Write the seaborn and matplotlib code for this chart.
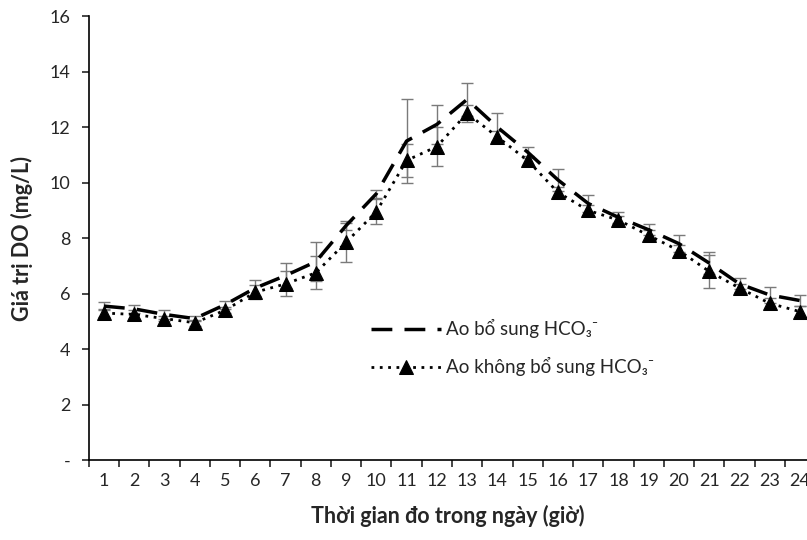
import matplotlib.pyplot as plt
import seaborn as sns
import pandas as pd
import numpy as np

# gio do trong ngay
gio = list(range(1, 25))

# Ao bo sung HCO3- (net dut)
do_bs = [5.55, 5.45, 5.25, 5.1, 5.6, 6.2, 6.65, 7.15, 8.45, 9.6, 11.5, 12.1,
         13.0, 12.0, 11.1, 10.1, 9.25, 8.75, 8.3, 7.8, 7.1, 6.35, 5.95, 5.75]
sd_bs = [0.15, 0.15, 0.15, 0.1, 0.15, 0.3, 0.45, 0.7, 0.15, 0.15, 1.5, 0.7,
         0.6, 0.5, 0.2, 0.4, 0.3, 0.2, 0.2, 0.3, 0.4, 0.2, 0.3, 0.2]

# Ao khong bo sung HCO3- (cham + tam giac)
do_kbs = [5.3, 5.25, 5.1, 4.95, 5.4, 6.05, 6.35, 6.75, 7.85, 8.95, 10.8, 11.3,
          12.5, 11.65, 10.8, 9.65, 9.0, 8.65, 8.1, 7.55, 6.8, 6.2, 5.65, 5.35]
sd_kbs = [0.15, 0.15, 0.1, 0.1, 0.1, 0.25, 0.45, 0.6, 0.7, 0.45, 0.6, 0.7,
          0.3, 0.2, 0.15, 0.2, 0.2, 0.15, 0.2, 0.2, 0.6, 0.15, 0.2, 0.2]

lbl_bs = 'Ao bổ sung HCO₃⁻'
lbl_kbs = 'Ao không bổ sung HCO₃⁻'

sns.set_style('ticks')
plt.rcParams['font.family'] = ['Lato', 'DejaVu Sans']

fig = plt.figure(figsize=(8.07, 5.4), dpi=100)
ax = fig.add_axes([0.110, 0.148, 0.89, 0.822])

df = pd.DataFrame({'gio': gio, 'bs': do_bs, 'kbs': do_kbs})

ax.errorbar(gio, do_bs, yerr=sd_bs, fmt='none', ecolor='#7a7a7a',
            elinewidth=1, capsize=4, capthick=1, zorder=1)
ax.errorbar(gio, do_kbs, yerr=sd_kbs, fmt='none', ecolor='#7a7a7a',
            elinewidth=1, capsize=4, capthick=1, zorder=1)

sns.lineplot(data=df, x='gio', y='bs', color='black', lw=2.5,
             linestyle=(0, (6, 3.5)), label=lbl_bs, ax=ax, zorder=2)
sns.lineplot(data=df, x='gio', y='kbs', color='black', lw=2,
             linestyle=(0, (1, 2)), marker='^', markersize=10,
             markeredgecolor='black', markerfacecolor='black',
             label=lbl_kbs, ax=ax, zorder=3)

ax.set_xlim(0.5, 24.23)
ax.set_ylim(0, 16)
ax.set_xticks(gio)
ax.set_xticks(np.arange(0.5, 24.5, 1), minor=True)
ax.tick_params(axis='x', which='major', length=0, labelsize=13, pad=9)
ax.tick_params(axis='x', which='minor', length=5, width=1.2, direction='out')
yt = list(range(0, 17, 2))
ax.set_yticks(yt)
ax.set_yticklabels(['-'] + [str(v) for v in yt[1:]])
ax.tick_params(axis='y', length=5, width=1.2, labelsize=13, pad=8)

for s in ['top', 'right']:
    ax.spines[s].set_visible(False)
for s in ['left', 'bottom']:
    ax.spines[s].set_linewidth(1.2)
    ax.spines[s].set_color('black')

ax.set_xlabel('Thời gian đo trong ngày (giờ)', fontsize=15.5, fontweight='bold', labelpad=12)
ax.set_ylabel('Giá trị DO (mg/L)', fontsize=15.5, fontweight='bold', labelpad=12)

leg = ax.legend(loc='upper left', bbox_to_anchor=(0.37, 0.355), frameon=False,
                fontsize=13.5, handlelength=3.7, labelspacing=1.0, handletextpad=0.3)

fig.savefig('out.png', dpi=100)
